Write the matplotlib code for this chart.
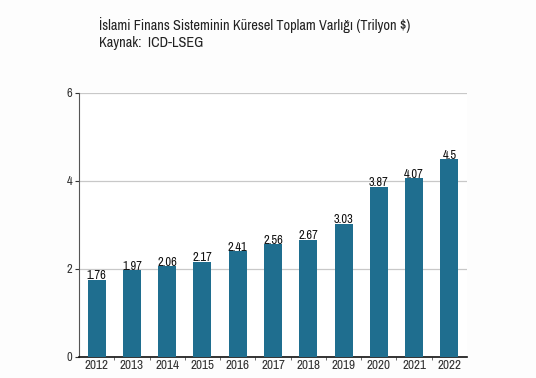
import matplotlib
matplotlib.use("Agg")
import matplotlib.pyplot as plt
from matplotlib import font_manager

years = ["2012", "2013", "2014", "2015", "2016", "2017", "2018", "2019", "2020", "2021", "2022"]
values = [1.76, 1.97, 2.06, 2.17, 2.41, 2.56, 2.67, 3.03, 3.87, 4.07, 4.5]
value_labels = ["1.76", "1.97", "2.06", "2.17", "2.41", "2.56", "2.67", "3.03", "3.87", "4.07", "4.5"]
yticks = [0, 2, 4, 6]
title_line1 = "İslami Finans Sisteminin Küresel Toplam Varlığı (Trilyon $)"
title_line2 = "Kaynak:  ICD-LSEG"

names = sorted({f.name for f in font_manager.fontManager.ttflist})
narrow = [n for n in names if "Narrow" in n or "Condensed" in n]
fam = narrow[:1] + ["Roboto", "DejaVu Sans"]
plt.rcParams["font.family"] = fam

fig = plt.figure(figsize=(5.36, 3.78), dpi=100)
fig.patch.set_facecolor("#fdfdfd")
ax = fig.add_axes([0.1474, 0.0556, 0.7239, 0.6984])
ax.set_facecolor("white")

x = list(range(len(years)))
bars = ax.bar(x, values, width=0.51, color="#1f6e8f", zorder=3)
for xi, v, lab in zip(x, values, value_labels):
    ax.text(xi, v - 0.04, lab, ha="center", va="bottom", fontsize=9, color="#111111", zorder=4)

ax.set_xlim(-0.5, len(years) - 0.5)
ax.set_ylim(0, 6)
ax.set_yticks(yticks)
ax.set_yticklabels([str(t) for t in yticks], fontsize=9, color="#333333")
ax.set_xticks(x)
ax.set_xticklabels(years, fontsize=9.5, color="#333333")
ax.tick_params(axis="x", length=0, pad=2)
ax.set_xticks([i + 0.5 for i in x[:-1]], minor=True)
ax.tick_params(axis="x", which="minor", length=2, color="#555555", direction="out")
ax.tick_params(axis="y", length=3, color="#333333", pad=2)
ax.yaxis.grid(True, color="#c8c8c8", linewidth=0.9, zorder=0)
for s in ["top", "right"]:
    ax.spines[s].set_visible(False)
ax.spines["left"].set_color("#555555")
ax.spines["bottom"].set_color("#111111")
ax.spines["bottom"].set_linewidth(1.2)

fig.text(0.185, 0.934, title_line1, fontsize=10.3, color="#222222", va="center", ha="left")
fig.text(0.185, 0.886, title_line2, fontsize=10.3, color="#222222", va="center", ha="left")

fig.savefig("out.png", dpi=100, facecolor=fig.get_facecolor())
